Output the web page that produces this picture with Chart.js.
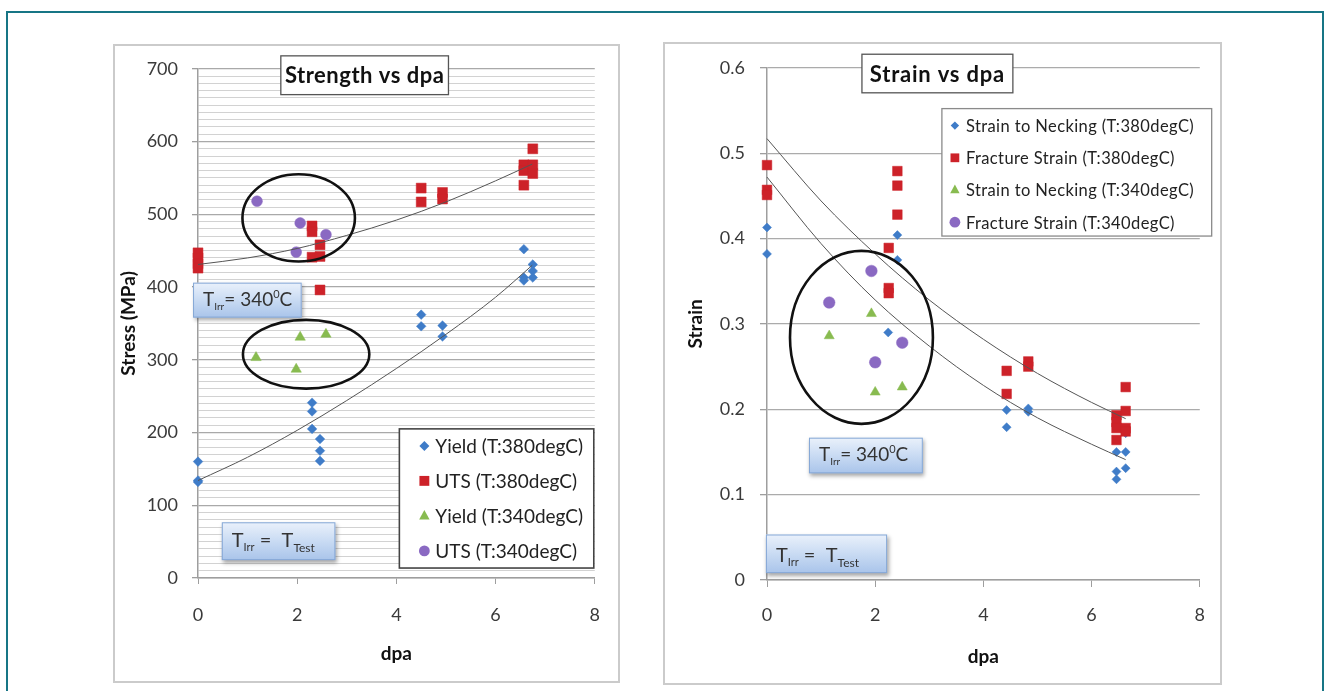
<!DOCTYPE html>
<html>
<head>
<meta charset="utf-8">
<script src="https://cdn.jsdelivr.net/npm/chart.js@4.4.1/dist/chart.umd.min.js"></script>
<style>
  html, body { margin: 0; padding: 0; background: #fff; width: 1325px; height: 691px; overflow: hidden; }
  #frame { position: absolute; left: 6px; top: 11px; width: 1318px; height: 800px; border: 2px solid #177585; box-sizing: border-box; }
  .cv { position: absolute; }
  .edge { position: absolute; border: 2px solid #cbcbcb; box-sizing: border-box; pointer-events: none; }
</style>
</head>
<body>
<div id="frame"></div>
<canvas id="strength" class="cv" width="507" height="639" style="left:113px;top:44px"></canvas>
<div class="edge" style="left:113px;top:44px;width:507px;height:639px"></div>
<canvas id="strain" class="cv" width="559" height="643" style="left:663px;top:42px"></canvas>
<div class="edge" style="left:663px;top:42px;width:559px;height:643px"></div>
<script>
// ---------- Strength vs dpa ----------
const yield380Dpa = [0, 0, 0, 2.30, 2.30, 2.30, 2.46, 2.46, 2.46, 4.50, 4.50, 4.93, 4.93, 6.57, 6.57, 6.57, 6.75, 6.75, 6.75];
const yield380Mpa = [160, 134, 132, 241, 229, 205, 191, 175, 161, 362, 346, 347, 332, 452, 413, 409, 431, 422, 413];
const uts380Dpa = [0, 0, 0, 0, 2.30, 2.30, 2.30, 2.46, 2.46, 2.46, 4.50, 4.50, 4.93, 4.93, 6.57, 6.57, 6.57, 6.75, 6.75, 6.75];
const uts380Mpa = [447, 440, 432, 426, 484, 476, 441, 458, 442, 396, 536, 517, 530, 521, 568, 560, 540, 590, 568, 556];
const yield340Dpa = [1.17, 2.06, 1.98, 2.58];
const yield340Mpa = [303, 331, 287, 335];
const uts340Dpa = [1.19, 2.06, 1.98, 2.58];
const uts340Mpa = [518, 488, 448, 472];
// trend curves through the 380degC series
const strengthTrendDpa = [0, 1, 2, 3, 4, 5, 6, 6.74];
const utsTrendMpa = [431, 440, 453, 471, 492, 517, 546, 569];
const yieldTrendMpa = [134, 166, 203, 244, 288, 335, 386, 430];

// ---------- Strain vs dpa ----------
const neck380Dpa = [0, 0, 2.41, 2.41, 2.24, 4.43, 4.43, 4.83, 4.83, 6.46, 6.46, 6.46, 6.63, 6.63, 6.63];
const neck380Val = [0.413, 0.382, 0.404, 0.375, 0.290, 0.199, 0.179, 0.201, 0.197, 0.150, 0.127, 0.118, 0.150, 0.131, 0.172];
const frac380Dpa = [0, 0, 0, 2.41, 2.41, 2.41, 2.25, 2.25, 2.25, 4.43, 4.43, 4.83, 4.83, 6.46, 6.46, 6.46, 6.46, 6.63, 6.63, 6.63, 6.63];
const frac380Val = [0.486, 0.457, 0.451, 0.479, 0.462, 0.428, 0.389, 0.342, 0.336, 0.245, 0.218, 0.256, 0.250, 0.193, 0.185, 0.178, 0.164, 0.226, 0.198, 0.178, 0.174];
const neck340Dpa = [1.15, 1.93, 2.00, 2.50];
const neck340Val = [0.286, 0.312, 0.220, 0.226];
const frac340Dpa = [1.15, 1.93, 2.00, 2.50];
const frac340Val = [0.325, 0.362, 0.255, 0.278];
const strainTrendDpa = [0, 1, 2, 3, 4, 5, 6, 6.63];
const fracTrendVal = [0.517, 0.444, 0.382, 0.328, 0.282, 0.242, 0.208, 0.189];
const neckTrendVal = [0.472, 0.394, 0.328, 0.274, 0.228, 0.190, 0.159, 0.141];

const strengthTicksX = [0, 2, 4, 6, 8];
const strainTicksX = [0, 2, 4, 6, 8];

const FONT = 'Lato, "Open Sans", sans-serif';
const BLUE = '#3f7cc8', RED = '#cd2229', GREEN = '#88bb50', PURPLE = '#8a69c2';
const AXIS = '#9e9e9e';

function pts(xs, ys) { return xs.map((x, i) => ({ x: x, y: ys[i] })); }

function markerSet(label, xs, ys, color, style, radius, order) {
  return {
    label: label, data: pts(xs, ys), order: order, clip: false,
    pointStyle: style, pointRadius: radius,
    backgroundColor: color, borderColor: color, borderWidth: 0.5,
    showLine: false
  };
}
function trendSet(xs, ys) {
  return {
    label: '', data: pts(xs, ys), order: 0, showLine: true, clip: false,
    pointRadius: 0, borderColor: '#555', borderWidth: 1,
    cubicInterpolationMode: 'monotone', fill: false
  };
}

function drawMarker(ctx, style, x, y, r, color) {
  ctx.fillStyle = color;
  ctx.beginPath();
  if (style === 'rectRot') {
    ctx.moveTo(x, y - r); ctx.lineTo(x + r, y); ctx.lineTo(x, y + r); ctx.lineTo(x - r, y);
  } else if (style === 'rect') {
    const h = r * Math.SQRT1_2; ctx.rect(x - h, y - h, 2 * h, 2 * h);
  } else if (style === 'triangle') {
    ctx.moveTo(x, y - r); ctx.lineTo(x + r * 0.87, y + r * 0.6); ctx.lineTo(x - r * 0.87, y + r * 0.6);
  } else {
    ctx.arc(x, y, r, 0, Math.PI * 2);
  }
  ctx.closePath(); ctx.fill();
}

function drawRuns(ctx, x, y, runs) {
  runs.forEach(r => {
    ctx.font = (r.w || 'normal') + ' ' + r.s + 'px ' + FONT;
    ctx.fillText(r.t, x, y + (r.dy || 0));
    x += ctx.measureText(r.t).width;
  });
}

// annotation layer: circled groups, note boxes, title box and legend box
function decor(cfg) {
  return {
    id: 'decor',
    afterDatasetsDraw(chart) {
      const ctx = chart.ctx, sx = chart.scales.x, sy = chart.scales.y;
      const px = v => sx.getPixelForValue(v), py = v => sy.getPixelForValue(v);
      ctx.save();
      cfg.ellipses.forEach(e => {
        const cx = px(e.x), cy = py(e.y);
        const rx = Math.abs(px(e.x + e.rx) - cx), ry = Math.abs(py(e.y + e.ry) - cy);
        ctx.beginPath(); ctx.ellipse(cx, cy, rx, ry, 0, 0, Math.PI * 2);
        ctx.lineWidth = 2.6; ctx.strokeStyle = '#111'; ctx.stroke();
      });
      cfg.notes.forEach(n => {
        const x0 = px(n.x0), x1 = px(n.x1), y0 = py(n.y0), y1 = py(n.y1);
        ctx.save();
        ctx.shadowColor = 'rgba(0,0,0,0.35)'; ctx.shadowBlur = 4; ctx.shadowOffsetX = 1.5; ctx.shadowOffsetY = 2.5;
        const g = ctx.createLinearGradient(0, y0, 0, y1);
        g.addColorStop(0, '#eaf1fb'); g.addColorStop(0.5, '#c9dbf3'); g.addColorStop(1, '#a9c4ea');
        ctx.fillStyle = g; ctx.fillRect(x0, y0, x1 - x0, y1 - y0);
        ctx.restore();
        ctx.lineWidth = 1; ctx.strokeStyle = '#86a8d6';
        ctx.strokeRect(x0 + 0.5, y0 + 0.5, x1 - x0 - 1, y1 - y0 - 1);
        ctx.fillStyle = '#333'; ctx.textBaseline = 'alphabetic'; ctx.textAlign = 'left';
        drawRuns(ctx, x0 + 10, (y0 + y1) / 2 + n.base, n.runs);
      });
      const t = cfg.title;
      {
        const x0 = px(t.x0), x1 = px(t.x1), y0 = py(t.y0), y1 = py(t.y1);
        ctx.fillStyle = '#fff'; ctx.fillRect(x0, y0, x1 - x0, y1 - y0);
        ctx.lineWidth = 1.3; ctx.strokeStyle = '#555'; ctx.strokeRect(x0, y0, x1 - x0, y1 - y0);
        ctx.fillStyle = '#111'; ctx.font = 'bold ' + t.size + 'px ' + FONT;
        ctx.letterSpacing = t.ls + 'px';
        ctx.textAlign = 'center'; ctx.textBaseline = 'middle';
        ctx.fillText(t.text, (x0 + x1) / 2, (y0 + y1) / 2 + 1);
      }
      const L = cfg.legend;
      {
        const x0 = px(L.x0), x1 = px(L.x1), y0 = py(L.y0), y1 = py(L.y1);
        ctx.fillStyle = '#fff'; ctx.fillRect(x0, y0, x1 - x0, y1 - y0);
        ctx.lineWidth = L.lw; ctx.strokeStyle = L.edge; ctx.strokeRect(x0, y0, x1 - x0, y1 - y0);
        ctx.font = L.size + 'px ' + FONT; ctx.textAlign = 'left'; ctx.textBaseline = 'middle';
        ctx.letterSpacing = L.ls + 'px';
        chart.data.datasets.filter(d => d.label).forEach((d, i) => {
          const y = y0 + L.first + i * L.step;
          drawMarker(ctx, d.pointStyle, x0 + L.mx, y, L.mr[d.pointStyle], d.backgroundColor);
          ctx.fillStyle = '#222';
          ctx.fillText(d.label, x0 + L.tx, y + 1);
        });
      }
      ctx.letterSpacing = '0px';
      ctx.restore();
    }
  };
}

function axisTitle(text, pad) {
  return { display: true, text: text, color: '#111', font: { family: FONT, size: 19, weight: 'bold' }, padding: pad };
}
const tickFont = { family: FONT, size: 18 };

new Chart(document.getElementById('strength'), {
  type: 'scatter',
  data: {
    datasets: [
      markerSet('Yield (T:380degC)', yield380Dpa, yield380Mpa, BLUE, 'rectRot', 4.8, 4),
      markerSet('UTS (T:380degC)', uts380Dpa, uts380Mpa, RED, 'rect', 7, 3),
      markerSet('Yield (T:340degC)', yield340Dpa, yield340Mpa, GREEN, 'triangle', 6, 2),
      markerSet('UTS (T:340degC)', uts340Dpa, uts340Mpa, PURPLE, 'circle', 5.4, 1),
      trendSet(strengthTrendDpa, utsTrendMpa),
      trendSet(strengthTrendDpa, yieldTrendMpa)
    ]
  },
  options: {
    responsive: false, animation: false, events: [],
    layout: { padding: { left: 0, top: 22, right: 20, bottom: 0 } },
    plugins: { legend: { display: false }, tooltip: { enabled: false } },
    scales: {
      x: {
        type: 'linear', min: 0, max: 8,
        afterBuildTicks: s => { s.ticks = strengthTicksX.map(v => ({ value: v })); },
        ticks: { font: tickFont, color: '#3a3a3a', padding: 20 },
        grid: { drawOnChartArea: false, drawTicks: true, tickLength: 6, tickColor: AXIS },
        border: { color: AXIS, width: 1.5 },
        title: axisTitle('dpa', { top: 0, bottom: 18 }),
        afterFit: s => { s.height = 105; }
      },
      y: {
        min: 0, max: 700,
        ticks: { stepSize: 10, maxTicksLimit: 200, autoSkip: false, font: tickFont, color: '#3a3a3a', padding: 14,
                 callback: v => (v % 100 === 0 ? v : '') },
        grid: {
          color: c => (c.tick && c.tick.value % 100 === 0 ? '#a9a9a9' : '#d2d2d2'),
          lineWidth: c => (c.tick && c.tick.value % 100 === 0 ? 1.3 : 1),
          tickColor: c => (c.tick && c.tick.value % 100 === 0 ? AXIS : 'rgba(0,0,0,0)'),
          tickLength: 6
        },
        border: { color: AXIS, width: 1.5 },
        title: axisTitle('Stress (MPa)', { top: 4, bottom: 0 }),
        afterFit: s => { s.width = 85; }
      }
    }
  },
  plugins: [decor({
    ellipses: [
      { x: 2.03, y: 495, rx: 1.134, ry: 60 },
      { x: 2.18, y: 307.6, rx: 1.274, ry: 47.2 }
    ],
    notes: [
      { x0: -0.10, x1: 2.09, y0: 406, y1: 358, base: 6,
        runs: [{ t: 'T', s: 19 }, { t: 'Irr', s: 10, dy: 4 }, { t: '= 340', s: 19 }, { t: '0', s: 11, dy: -8 }, { t: 'C', s: 19 }] },
      { x0: 0.48, x1: 2.77, y0: 76.6, y1: 24.6, base: 6,
        runs: [{ t: 'T', s: 20 }, { t: 'Irr', s: 11, dy: 4 }, { t: ' =  T', s: 20 }, { t: 'Test', s: 12, dy: 5 }] }
    ],
    title: { text: 'Strength vs dpa', size: 22, ls: 0.5, x0: 1.67, x1: 5.05, y0: 717.8, y1: 664.5 },
    legend: { x0: 4.06, x1: 7.98, y0: 205, y1: 13.7, lw: 1.6, edge: '#444', size: 19, ls: 0,
              first: 17, step: 35, mx: 25, tx: 36,
              mr: { rectRot: 5, rect: 7, triangle: 6, circle: 5.4 } }
  })]
});

new Chart(document.getElementById('strain'), {
  type: 'scatter',
  data: {
    datasets: [
      markerSet('Strain to Necking (T:380degC)', neck380Dpa, neck380Val, BLUE, 'rectRot', 4.5, 4),
      markerSet('Fracture Strain (T:380degC)', frac380Dpa, frac380Val, RED, 'rect', 6.8, 3),
      markerSet('Strain to Necking (T:340degC)', neck340Dpa, neck340Val, GREEN, 'triangle', 5.8, 2),
      markerSet('Fracture Strain (T:340degC)', frac340Dpa, frac340Val, PURPLE, 'circle', 5.8, 1),
      trendSet(strainTrendDpa, fracTrendVal),
      trendSet(strainTrendDpa, neckTrendVal)
    ]
  },
  options: {
    responsive: false, animation: false, events: [],
    layout: { padding: { left: 0, top: 20, right: 22, bottom: 0 } },
    plugins: { legend: { display: false }, tooltip: { enabled: false } },
    scales: {
      x: {
        type: 'linear', min: 0, max: 8,
        afterBuildTicks: s => { s.ticks = strainTicksX.map(v => ({ value: v })); },
        ticks: { font: tickFont, color: '#3a3a3a', padding: 17 },
        grid: { drawOnChartArea: false, drawTicks: true, tickLength: 7, tickColor: AXIS },
        border: { color: AXIS, width: 1.5 },
        title: axisTitle('dpa', { top: 0, bottom: 17 }),
        afterFit: s => { s.height = 105; }
      },
      y: {
        min: 0, max: 0.6,
        ticks: { stepSize: 0.1, autoSkip: false, font: tickFont, color: '#3a3a3a', padding: 15,
                 callback: v => (Math.round(v * 10) / 10).toString() },
        grid: { color: '#ababab', lineWidth: 1.3, tickColor: AXIS, tickLength: 7 },
        border: { color: AXIS, width: 1.5 },
        title: axisTitle('Strain', { top: 21, bottom: 0 }),
        afterFit: s => { s.width = 104; }
      }
    }
  },
  plugins: [decor({
    ellipses: [{ x: 1.746, y: 0.2842, rx: 1.321, ry: 0.1013 }],
    notes: [
      { x0: 0.776, x1: 2.88, y0: 0.1667, y1: 0.125, base: 6,
        runs: [{ t: 'T', s: 19 }, { t: 'Irr', s: 10, dy: 4 }, { t: '= 340', s: 19 }, { t: '0', s: 11, dy: -8 }, { t: 'C', s: 19 }] },
      { x0: -0.02, x1: 2.22, y0: 0.0533, y1: 0.0081, base: 8,
        runs: [{ t: 'T', s: 20 }, { t: 'Irr', s: 11, dy: 4 }, { t: ' =  T', s: 20 }, { t: 'Test', s: 12, dy: 5 }] }
    ],
    title: { text: 'Strain vs dpa', size: 22, ls: 0.8, x0: 1.755, x1: 4.545, y0: 0.6159, y1: 0.5707 },
    legend: { x0: 3.233, x1: 8.22, y0: 0.5522, y1: 0.4029, lw: 1.3, edge: '#8a8a8a', size: 16.5, ls: 0.4,
              first: 17, step: 32.2, mx: 13, tx: 24,
              mr: { rectRot: 4.2, rect: 6.2, triangle: 5.4, circle: 5.4 } }
  })]
});
</script>
</body>
</html>
